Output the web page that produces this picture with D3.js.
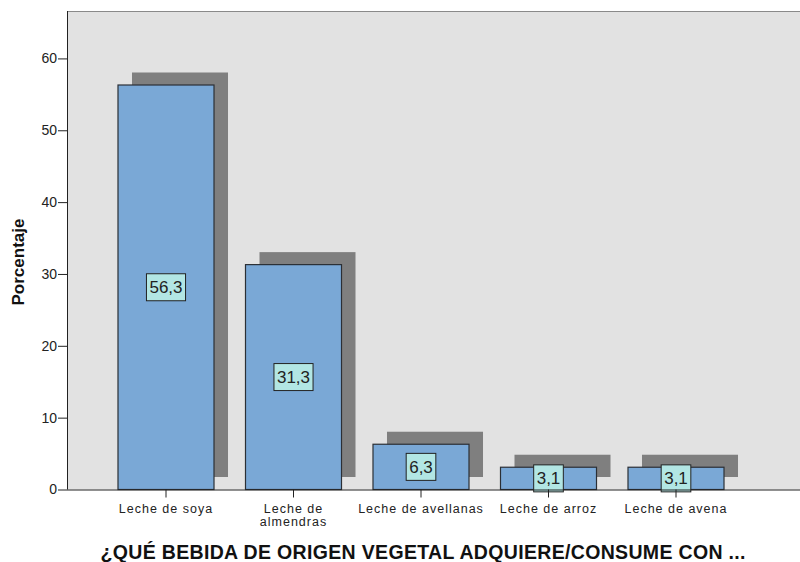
<!DOCTYPE html>
<html>
<head>
<meta charset="utf-8">
<script src="https://cdn.jsdelivr.net/npm/d3@7"></script>
<style>
  body { margin: 0; background: #fff; }
  text { font-family: Arial, "Liberation Sans", sans-serif; }
</style>
</head>
<body>
<svg id="chart" width="800" height="562"></svg>
<script>
var categories = ["Leche de soya", "Leche de almendras", "Leche de avellanas", "Leche de arroz", "Leche de avena"]
var tickLines = [["Leche de soya"], ["Leche de", "almendras"], ["Leche de avellanas"], ["Leche de arroz"], ["Leche de avena"]]
var values = [56.3, 31.3, 6.3, 3.1, 3.1]
var valueLabels = ["56,3", "31,3", "6,3", "3,1", "3,1"]
var yTicks = [0, 10, 20, 30, 40, 50, 60]
var xTitle = "¿QUÉ BEBIDA DE ORIGEN VEGETAL ADQUIERE/CONSUME CON ..."
var yTitle = "Porcentaje"

var svg = d3.select("#chart")
var plotLeft = 67, plotTop = 11, plotRight = 800, plotBottom = 489.5

var x = d3.scaleBand()
  .domain(categories)
  .range([102.25, 739.75])
  .paddingInner(0.247)
  .paddingOuter(0.1235)

var y = d3.scaleLinear()
  .domain([0, 66.6])
  .range([plotBottom, plotTop])

// plot background
svg.append("rect")
  .attr("x", plotLeft).attr("y", plotTop)
  .attr("width", plotRight - plotLeft).attr("height", plotBottom - plotTop)
  .attr("fill", "#e2e2e2")
  .attr("stroke", "none")
svg.append("line")
  .attr("x1", plotLeft).attr("x2", plotRight).attr("y1", plotTop + 0.5).attr("y2", plotTop + 0.5)
  .attr("stroke", "#8a8a8a")

var shadowDx = 14, shadowDy = -12.5

svg.append("g").selectAll("rect")
  .data(values)
  .join("rect")
  .attr("x", function(d, i){ return x(categories[i]) + shadowDx })
  .attr("y", function(d){ return y(d) + shadowDy })
  .attr("width", x.bandwidth())
  .attr("height", function(d){ return plotBottom - y(d) })
  .attr("fill", "#7f7f7f")

svg.append("g").selectAll("rect")
  .data(values)
  .join("rect")
  .attr("x", function(d, i){ return x(categories[i]) })
  .attr("y", function(d){ return y(d) })
  .attr("width", x.bandwidth())
  .attr("height", function(d){ return plotBottom - y(d) })
  .attr("fill", "#7aa8d6")
  .attr("stroke", "#2b2f35")
  .attr("stroke-width", 1.2)

// value labels
var labels = svg.append("g").selectAll("g")
  .data(values)
  .join("g")
  .attr("transform", function(d, i){
    var cx = x(categories[i]) + x.bandwidth() / 2
    var cy = (y(d) + plotBottom) / 2
    return "translate(" + cx + "," + cy + ")"
  })

labels.append("text")
  .attr("text-anchor", "middle")
  .attr("dy", "0.36em")
  .attr("font-size", 17)
  .attr("fill", "#222")
  .text(function(d, i){ return valueLabels[i] })

labels.each(function(){
  var g = d3.select(this)
  var bb = g.select("text").node().getBBox()
  g.insert("rect", "text")
    .attr("x", bb.x - 3).attr("y", -13.5)
    .attr("width", bb.width + 6).attr("height", 27)
    .attr("fill", "#b2e6e4")
    .attr("stroke", "#222")
    .attr("stroke-width", 1)
})

// y axis
var yAxis = svg.append("g")
  .attr("transform", "translate(" + plotLeft + ",0)")
  .call(d3.axisLeft(y).tickValues(yTicks).tickSize(9).tickPadding(1))
yAxis.select(".domain").attr("stroke", "#222").attr("d", "M0.5," + plotTop + "V" + plotBottom)
yAxis.selectAll(".tick line").attr("stroke", "#222")
yAxis.selectAll(".tick text").attr("font-size", 14).attr("fill", "#222")
  .style("font-family", "Arial, 'Liberation Sans', sans-serif")

// x axis
var xAxis = svg.append("g")
  .attr("transform", "translate(0," + plotBottom + ")")
  .call(d3.axisBottom(x).tickSize(8).tickFormat(""))
xAxis.select(".domain").attr("stroke", "#222").attr("d", "M" + plotLeft + ",0.5H" + plotRight)
xAxis.selectAll(".tick line").attr("stroke", "#222")

var xl = svg.append("g").selectAll("text")
  .data(categories)
  .join("text")
  .attr("x", function(d){ return x(d) + x.bandwidth() / 2 })
  .attr("y", plotBottom + 23.5)
  .attr("text-anchor", "middle")
  .attr("font-size", 12.5)
  .attr("letter-spacing", 1)
  .attr("fill", "#222")
xl.each(function(d, i){
  var t = d3.select(this)
  tickLines[i].forEach(function(line, k){
    t.append("tspan")
      .attr("x", x(d) + x.bandwidth() / 2)
      .attr("dy", k === 0 ? 0 : 12.5)
      .text(line)
  })
})

// titles
svg.append("text")
  .attr("x", 423).attr("y", 559)
  .attr("text-anchor", "middle")
  .attr("font-size", 19.5)
  .attr("font-weight", "bold")
  .attr("fill", "#111")
  .attr("textLength", 645)
  .attr("lengthAdjust", "spacing")
  .text(xTitle)

svg.append("text")
  .attr("transform", "translate(24,262) rotate(-90)")
  .attr("text-anchor", "middle")
  .attr("font-size", 17)
  .attr("font-weight", "bold")
  .attr("fill", "#111")
  .text(yTitle)
</script>
</body>
</html>
